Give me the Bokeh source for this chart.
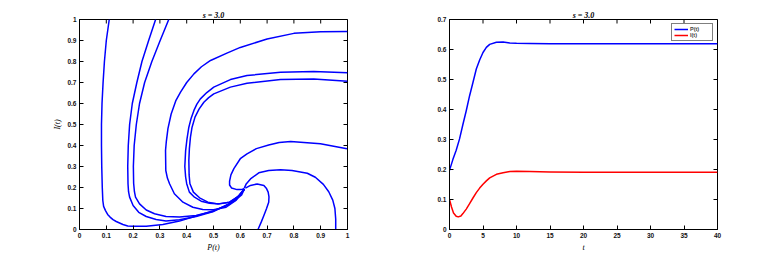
import math
from bokeh.plotting import figure
from bokeh.layouts import row
from bokeh.models import Range1d, FixedTicker, Legend, LegendItem
from bokeh.embed import file_html
from bokeh.resources import INLINE

# ---- Phase portrait trajectories (P, I) ----
trajA_P = [0.111, 0.100, 0.093, 0.088, 0.084, 0.082, 0.082, 0.083, 0.085, 0.087, 0.090, 0.097, 0.105, 0.114, 0.125, 0.137, 0.162, 0.180, 0.199, 0.249, 0.311, 0.373, 0.435, 0.500, 0.545, 0.580, 0.605, 0.615]
trajA_I = [1.000, 0.900, 0.800, 0.700, 0.600, 0.500, 0.400, 0.300, 0.200, 0.138, 0.110, 0.090, 0.072, 0.059, 0.047, 0.038, 0.024, 0.017, 0.015, 0.016, 0.024, 0.040, 0.064, 0.090, 0.112, 0.138, 0.165, 0.192]

trajB_P = [0.284, 0.258, 0.233, 0.214, 0.197, 0.187, 0.182, 0.180, 0.181, 0.183, 0.187, 0.200, 0.221, 0.249, 0.286, 0.323, 0.373, 0.435, 0.500, 0.560, 0.595, 0.615]
trajB_I = [1.000, 0.900, 0.800, 0.700, 0.600, 0.500, 0.400, 0.300, 0.218, 0.180, 0.154, 0.114, 0.082, 0.062, 0.048, 0.041, 0.046, 0.062, 0.086, 0.122, 0.160, 0.192]

trajC_P = [0.333, 0.301, 0.270, 0.243, 0.224, 0.212, 0.204, 0.201, 0.202, 0.205, 0.209, 0.224, 0.249, 0.280, 0.323, 0.373, 0.435, 0.500, 0.560, 0.595, 0.615]
trajC_I = [1.000, 0.900, 0.800, 0.700, 0.600, 0.500, 0.400, 0.300, 0.220, 0.180, 0.154, 0.122, 0.093, 0.075, 0.062, 0.059, 0.067, 0.087, 0.123, 0.160, 0.192]

trajD_P = [1.000, 0.900, 0.800, 0.700, 0.600, 0.550, 0.489, 0.455, 0.427, 0.400, 0.377, 0.360, 0.342, 0.330, 0.324, 0.321, 0.322, 0.328, 0.336, 0.354, 0.386, 0.423, 0.460, 0.500, 0.547, 0.585, 0.615]
trajD_I = [0.943, 0.942, 0.934, 0.907, 0.867, 0.840, 0.805, 0.775, 0.741, 0.700, 0.654, 0.615, 0.550, 0.480, 0.420, 0.376, 0.281, 0.245, 0.218, 0.170, 0.130, 0.106, 0.095, 0.094, 0.106, 0.140, 0.192]

trajE_P = [1.000, 0.874, 0.750, 0.625, 0.563, 0.501, 0.475, 0.451, 0.438, 0.427, 0.416, 0.408, 0.401, 0.396, 0.393, 0.396, 0.400, 0.410, 0.429, 0.454, 0.485, 0.522, 0.560, 0.590, 0.615]
trajE_I = [0.746, 0.752, 0.749, 0.733, 0.714, 0.678, 0.652, 0.622, 0.597, 0.567, 0.527, 0.487, 0.430, 0.376, 0.300, 0.250, 0.218, 0.178, 0.154, 0.135, 0.125, 0.122, 0.130, 0.155, 0.192]

trajF_P = [1.000, 0.874, 0.750, 0.625, 0.563, 0.501, 0.482, 0.464, 0.446, 0.431, 0.420, 0.414, 0.410, 0.408, 0.409, 0.412, 0.425, 0.448, 0.479, 0.516, 0.560, 0.590, 0.615]
trajF_I = [0.706, 0.717, 0.714, 0.696, 0.678, 0.646, 0.628, 0.606, 0.573, 0.535, 0.487, 0.440, 0.385, 0.329, 0.260, 0.218, 0.178, 0.151, 0.130, 0.122, 0.130, 0.155, 0.192]

trajG_P = [0.998, 0.899, 0.788, 0.745, 0.706, 0.660, 0.625, 0.600, 0.576, 0.565, 0.560, 0.560, 0.567, 0.588, 0.605, 0.615]
trajG_I = [0.384, 0.408, 0.419, 0.414, 0.402, 0.385, 0.360, 0.337, 0.290, 0.260, 0.230, 0.212, 0.198, 0.190, 0.190, 0.195]

trajH_P = [0.956, 0.956, 0.953, 0.945, 0.930, 0.910, 0.880, 0.850, 0.793, 0.750, 0.706, 0.669, 0.638, 0.622, 0.615]
trajH_I = [0.000, 0.050, 0.100, 0.140, 0.180, 0.215, 0.249, 0.268, 0.281, 0.285, 0.281, 0.270, 0.241, 0.217, 0.197]

trajI_P = [0.666, 0.678, 0.688, 0.698, 0.706, 0.707, 0.704, 0.697, 0.688, 0.663, 0.638, 0.619]
trajI_I = [0.000, 0.035, 0.067, 0.100, 0.130, 0.155, 0.178, 0.197, 0.210, 0.217, 0.210, 0.197]

trajectories = [(trajA_P, trajA_I), (trajB_P, trajB_I), (trajC_P, trajC_I),
                (trajD_P, trajD_I), (trajE_P, trajE_I), (trajF_P, trajF_I),
                (trajG_P, trajG_I), (trajH_P, trajH_I), (trajI_P, trajI_I)]

# ---- Time series ----
t_P = [0, 0.5, 1, 1.5, 2, 2.5, 3, 3.5, 4, 4.5, 5, 5.5, 6, 7, 8, 9, 10, 12, 15, 20, 30, 40]
P_vals = [0.197, 0.233, 0.264, 0.302, 0.350, 0.396, 0.446, 0.490, 0.535, 0.565, 0.590, 0.607, 0.617, 0.624, 0.625, 0.622, 0.621, 0.620, 0.619, 0.619, 0.619, 0.619]
t_I = [0, 0.3, 0.6, 1, 1.3, 1.7, 2, 2.5, 3, 3.5, 4, 4.5, 5, 5.5, 6, 7, 8, 9, 10, 12, 15, 20, 30, 40]
I_vals = [0.100, 0.075, 0.055, 0.044, 0.042, 0.045, 0.053, 0.068, 0.086, 0.105, 0.123, 0.138, 0.151, 0.162, 0.172, 0.184, 0.189, 0.193, 0.194, 0.193, 0.192, 0.191, 0.191, 0.191]

left_xticks = [0, 0.1, 0.2, 0.3, 0.4, 0.5, 0.6, 0.7, 0.8, 0.9, 1]
left_yticks = [0, 0.1, 0.2, 0.3, 0.4, 0.5, 0.6, 0.7, 0.8, 0.9, 1]
right_xticks = [0, 5, 10, 15, 20, 25, 30, 35, 40]
right_yticks = [0, 0.1, 0.2, 0.3, 0.4, 0.5, 0.6, 0.7]
title_text = "s = 3.0"

TICK_FONT = "Liberation Sans"
LABEL_FONT = "Liberation Serif"


def style(p, xticks, yticks, xlabel, ylabel):
    p.title.text_font = LABEL_FONT
    p.title.text_font_style = "bold italic"
    p.title.text_font_size = "8px"
    p.title.text_color = "black"
    p.title.align = "center"
    p.title.standoff = 0
    p.title.offset = 0
    p.outline_line_color = "black"
    p.outline_line_width = 1
    p.outline_line_alpha = 1
    p.xgrid.visible = False
    p.ygrid.visible = False
    for ax, ticks, lab in ((p.xaxis[0], xticks, xlabel), (p.yaxis[0], yticks, ylabel)):
        ax.ticker = FixedTicker(ticks=ticks)
        ax.major_tick_in = 4
        ax.major_tick_out = 0
        ax.minor_tick_line_color = None
        ax.axis_line_color = "black"
        ax.major_tick_line_color = "black"
        ax.major_label_text_font = TICK_FONT
        ax.major_label_text_font_style = "bold"
        ax.major_label_text_font_size = "6.5px"
        ax.major_label_text_color = "#111111"
        ax.major_label_standoff = 3
        ax.axis_label = lab
        ax.axis_label_text_font = LABEL_FONT
        ax.axis_label_text_font_style = "italic"
        ax.axis_label_text_font_size = "8px"
        ax.axis_label_text_color = "black"
        ax.axis_label_standoff = 2
    # mirrored tick marks on top and right edges (clipped to the frame)
    xr, yr = p.x_range, p.y_range
    p.scatter(xticks, [yr.end] * len(xticks), marker="dash", size=8, angle=math.pi / 2,
              line_color="black", line_width=1)
    p.scatter([xr.end] * len(yticks), yticks, marker="dash", size=8, angle=0,
              line_color="black", line_width=1)


p1 = figure(frame_width=268, frame_height=210, x_range=Range1d(0, 1), y_range=Range1d(0, 1),
            output_backend="svg", toolbar_location=None, title=title_text,
            min_border_left=79, min_border_right=21, min_border_top=19, min_border_bottom=30)
style(p1, left_xticks, left_yticks, "P(t)", "I(t)")
for xs, ys in trajectories:
    p1.line(xs, ys, line_color="#0000FF", line_width=1.5, line_join="round")

p2 = figure(frame_width=268, frame_height=210, x_range=Range1d(0, 40), y_range=Range1d(0, 0.7),
            output_backend="svg", toolbar_location=None, title=title_text,
            min_border_left=81, min_border_right=31, min_border_top=19, min_border_bottom=30)
style(p2, right_xticks, right_yticks, "t", "")
rP = p2.line(t_P, P_vals, line_color="#0000FF", line_width=1.5, line_join="round")
rI = p2.line(t_I, I_vals, line_color="#FF0000", line_width=1.5, line_join="round")
legend = Legend(items=[LegendItem(label="P(t)", renderers=[rP]), LegendItem(label="I(t)", renderers=[rI])],
                location="top_right", label_text_font=TICK_FONT, label_text_font_style="bold",
                label_text_font_size="5.5px", glyph_width=14, glyph_height=6, label_height=6,
                label_standoff=2, spacing=0, padding=2, margin=4,
                border_line_color="black", border_line_width=1)
p2.add_layout(legend)

layout = row(p1, p2)
open("out.html", "w").write(file_html(layout, INLINE))
